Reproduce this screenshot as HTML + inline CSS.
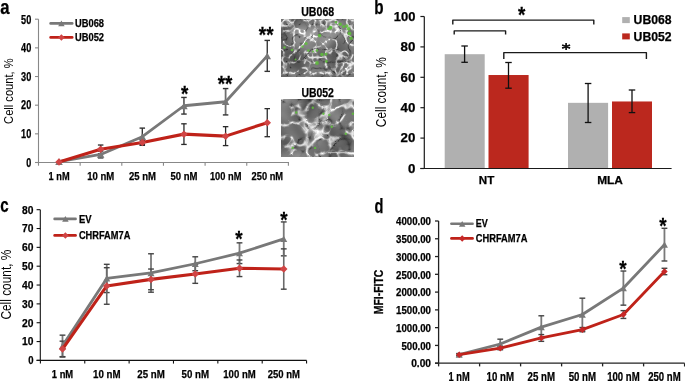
<!DOCTYPE html>
<html><head><meta charset="utf-8"><style>
html,body{margin:0;padding:0;background:#fff;}
text[font-weight="bold"]{stroke:#000;stroke-width:0.25px;}
svg{display:block;will-change:transform;font-family:"Liberation Sans",sans-serif;}
</style></head><body>
<svg width="685" height="381" viewBox="0 0 685 381">
<defs>
<filter id="tex1" x="0" y="0" width="100%" height="100%" filterUnits="objectBoundingBox" color-interpolation-filters="sRGB">
<feTurbulence type="turbulence" baseFrequency="0.095" numOctaves="2" seed="4" result="n1"/>
<feColorMatrix in="n1" type="matrix" values="1 0 0 0 0  1 0 0 0 0  1 0 0 0 0  0 0 0 0 1" result="g1"/>
<feComponentTransfer in="g1" result="A"><feFuncR type="table" tableValues="0.5 0.42 0.28 0.12 0.03 0 0 0 0 0 0 0 0 0 0 0 0 0 0 0"/><feFuncG type="table" tableValues="0.5 0.42 0.28 0.12 0.03 0 0 0 0 0 0 0 0 0 0 0 0 0 0 0"/><feFuncB type="table" tableValues="0.5 0.42 0.28 0.12 0.03 0 0 0 0 0 0 0 0 0 0 0 0 0 0 0"/></feComponentTransfer>
<feTurbulence type="turbulence" baseFrequency="0.08" numOctaves="2" seed="8" result="n2"/>
<feColorMatrix in="n2" type="matrix" values="1 0 0 0 0  1 0 0 0 0  1 0 0 0 0  0 0 0 0 1" result="g2"/>
<feComponentTransfer in="g2" result="D"><feFuncR type="table" tableValues="0.55 0.72 0.9 0.98 1 1 1 1 1 1 1 1 1 1 1 1 1 1 1 1"/><feFuncG type="table" tableValues="0.55 0.72 0.9 0.98 1 1 1 1 1 1 1 1 1 1 1 1 1 1 1 1"/><feFuncB type="table" tableValues="0.55 0.72 0.9 0.98 1 1 1 1 1 1 1 1 1 1 1 1 1 1 1 1"/></feComponentTransfer>
<feTurbulence type="fractalNoise" baseFrequency="0.04" numOctaves="2" seed="2" result="m"/>
<feColorMatrix in="m" type="matrix" values="1 0 0 0 0  1 0 0 0 0  1 0 0 0 0  0 0 0 0 1" result="B"/>
<feComposite in="A" in2="B" operator="arithmetic" k1="0" k2="1" k3="0.5" k4="0.205" result="AB"/>
<feComposite in="AB" in2="D" operator="arithmetic" k1="1" k2="0" k3="0" k4="0"/>
</filter>
<filter id="tex2" x="0" y="0" width="100%" height="100%" filterUnits="objectBoundingBox" color-interpolation-filters="sRGB">
<feTurbulence type="turbulence" baseFrequency="0.065" numOctaves="2" seed="11" result="n1"/>
<feColorMatrix in="n1" type="matrix" values="1 0 0 0 0  1 0 0 0 0  1 0 0 0 0  0 0 0 0 1" result="g1"/>
<feComponentTransfer in="g1" result="A"><feFuncR type="table" tableValues="0.5 0.42 0.28 0.12 0.03 0 0 0 0 0 0 0 0 0 0 0 0 0 0 0"/><feFuncG type="table" tableValues="0.5 0.42 0.28 0.12 0.03 0 0 0 0 0 0 0 0 0 0 0 0 0 0 0"/><feFuncB type="table" tableValues="0.5 0.42 0.28 0.12 0.03 0 0 0 0 0 0 0 0 0 0 0 0 0 0 0"/></feComponentTransfer>
<feTurbulence type="turbulence" baseFrequency="0.05" numOctaves="2" seed="13" result="n2"/>
<feColorMatrix in="n2" type="matrix" values="1 0 0 0 0  1 0 0 0 0  1 0 0 0 0  0 0 0 0 1" result="g2"/>
<feComponentTransfer in="g2" result="D"><feFuncR type="table" tableValues="0.55 0.72 0.9 0.98 1 1 1 1 1 1 1 1 1 1 1 1 1 1 1 1"/><feFuncG type="table" tableValues="0.55 0.72 0.9 0.98 1 1 1 1 1 1 1 1 1 1 1 1 1 1 1 1"/><feFuncB type="table" tableValues="0.55 0.72 0.9 0.98 1 1 1 1 1 1 1 1 1 1 1 1 1 1 1 1"/></feComponentTransfer>
<feTurbulence type="fractalNoise" baseFrequency="0.04" numOctaves="2" seed="5" result="m"/>
<feColorMatrix in="m" type="matrix" values="1 0 0 0 0  1 0 0 0 0  1 0 0 0 0  0 0 0 0 1" result="B"/>
<feComposite in="A" in2="B" operator="arithmetic" k1="0" k2="1" k3="0.5" k4="0.190" result="AB"/>
<feComposite in="AB" in2="D" operator="arithmetic" k1="1" k2="0" k3="0" k4="0"/>
</filter>
<filter id="gb" x="-1" y="-1" width="3" height="3"><feGaussianBlur stdDeviation="0.7"/></filter>
<clipPath id="phclip"><rect x="281" y="19" width="73" height="58"/><rect x="281" y="99" width="73" height="57.3"/></clipPath>
<filter id="gb3" x="-1" y="-1" width="3" height="3"><feGaussianBlur stdDeviation="3"/></filter>
</defs>
<rect width="685" height="381" fill="#fff"/>
<text x="0.30" y="13.70" font-size="20" font-weight="bold" text-anchor="start" fill="#000" textLength="9.3" lengthAdjust="spacingAndGlyphs" >a</text>
<line x1="38.50" y1="19.20" x2="38.50" y2="162.50" stroke="#888" stroke-width="1.1" />
<line x1="35.00" y1="162.50" x2="38.50" y2="162.50" stroke="#888" stroke-width="1.1" />
<text x="31.30" y="166.80" font-size="12" font-weight="bold" text-anchor="end" fill="#000" textLength="5.0" lengthAdjust="spacingAndGlyphs" >0</text>
<line x1="35.00" y1="133.84" x2="38.50" y2="133.84" stroke="#888" stroke-width="1.1" />
<text x="31.30" y="138.14" font-size="12" font-weight="bold" text-anchor="end" fill="#000" textLength="10.2" lengthAdjust="spacingAndGlyphs" >10</text>
<line x1="35.00" y1="105.18" x2="38.50" y2="105.18" stroke="#888" stroke-width="1.1" />
<text x="31.30" y="109.48" font-size="12" font-weight="bold" text-anchor="end" fill="#000" textLength="10.2" lengthAdjust="spacingAndGlyphs" >20</text>
<line x1="35.00" y1="76.52" x2="38.50" y2="76.52" stroke="#888" stroke-width="1.1" />
<text x="31.30" y="80.82" font-size="12" font-weight="bold" text-anchor="end" fill="#000" textLength="10.2" lengthAdjust="spacingAndGlyphs" >30</text>
<line x1="35.00" y1="47.86" x2="38.50" y2="47.86" stroke="#888" stroke-width="1.1" />
<text x="31.30" y="52.16" font-size="12" font-weight="bold" text-anchor="end" fill="#000" textLength="10.2" lengthAdjust="spacingAndGlyphs" >40</text>
<line x1="35.00" y1="19.20" x2="38.50" y2="19.20" stroke="#888" stroke-width="1.1" />
<text x="31.30" y="23.50" font-size="12" font-weight="bold" text-anchor="end" fill="#000" textLength="10.2" lengthAdjust="spacingAndGlyphs" >50</text>
<line x1="35.00" y1="162.50" x2="289.00" y2="162.50" stroke="#888" stroke-width="1.1" />
<line x1="38.50" y1="162.50" x2="38.50" y2="165.70" stroke="#888" stroke-width="1.1" />
<line x1="80.15" y1="162.50" x2="80.15" y2="165.70" stroke="#888" stroke-width="1.1" />
<line x1="121.80" y1="162.50" x2="121.80" y2="165.70" stroke="#888" stroke-width="1.1" />
<line x1="163.45" y1="162.50" x2="163.45" y2="165.70" stroke="#888" stroke-width="1.1" />
<line x1="205.10" y1="162.50" x2="205.10" y2="165.70" stroke="#888" stroke-width="1.1" />
<line x1="246.75" y1="162.50" x2="246.75" y2="165.70" stroke="#888" stroke-width="1.1" />
<line x1="288.40" y1="162.50" x2="288.40" y2="165.70" stroke="#888" stroke-width="1.1" />
<text x="59.10" y="180.40" font-size="11.2" font-weight="bold" text-anchor="middle" fill="#000" textLength="21" lengthAdjust="spacingAndGlyphs" >1 nM</text>
<text x="100.75" y="180.40" font-size="11.2" font-weight="bold" text-anchor="middle" fill="#000" textLength="27" lengthAdjust="spacingAndGlyphs" >10 nM</text>
<text x="142.40" y="180.40" font-size="11.2" font-weight="bold" text-anchor="middle" fill="#000" textLength="27" lengthAdjust="spacingAndGlyphs" >25 nM</text>
<text x="184.05" y="180.40" font-size="11.2" font-weight="bold" text-anchor="middle" fill="#000" textLength="27" lengthAdjust="spacingAndGlyphs" >50 nM</text>
<text x="225.70" y="180.40" font-size="11.2" font-weight="bold" text-anchor="middle" fill="#000" textLength="31.5" lengthAdjust="spacingAndGlyphs" >100 nM</text>
<text x="267.35" y="180.40" font-size="11.2" font-weight="bold" text-anchor="middle" fill="#000" textLength="31.5" lengthAdjust="spacingAndGlyphs" >250 nM</text>
<text transform="translate(12.6,123.9) rotate(-90)" font-size="13.6" textLength="65.5" lengthAdjust="spacingAndGlyphs" fill="#000">Cell count, %</text>
<line x1="100.65" y1="151.04" x2="100.65" y2="157.91" stroke="#2a2a2a" stroke-width="1.3" />
<line x1="97.90" y1="151.04" x2="103.40" y2="151.04" stroke="#333" stroke-width="1.4" />
<line x1="97.90" y1="157.91" x2="103.40" y2="157.91" stroke="#333" stroke-width="1.4" />
<line x1="100.65" y1="145.02" x2="100.65" y2="153.62" stroke="#2a2a2a" stroke-width="1.3" />
<line x1="97.90" y1="145.02" x2="103.40" y2="145.02" stroke="#2a2a2a" stroke-width="1.3" />
<line x1="97.90" y1="153.62" x2="103.40" y2="153.62" stroke="#2a2a2a" stroke-width="1.3" />
<line x1="142.30" y1="128.11" x2="142.30" y2="145.30" stroke="#2a2a2a" stroke-width="1.3" />
<line x1="139.55" y1="128.11" x2="145.05" y2="128.11" stroke="#333" stroke-width="1.4" />
<line x1="139.55" y1="145.30" x2="145.05" y2="145.30" stroke="#333" stroke-width="1.4" />
<line x1="142.30" y1="140.15" x2="142.30" y2="144.73" stroke="#2a2a2a" stroke-width="1.3" />
<line x1="139.55" y1="140.15" x2="145.05" y2="140.15" stroke="#2a2a2a" stroke-width="1.3" />
<line x1="139.55" y1="144.73" x2="145.05" y2="144.73" stroke="#2a2a2a" stroke-width="1.3" />
<line x1="183.95" y1="97.44" x2="183.95" y2="114.06" stroke="#2a2a2a" stroke-width="1.3" />
<line x1="181.20" y1="97.44" x2="186.70" y2="97.44" stroke="#333" stroke-width="1.4" />
<line x1="181.20" y1="114.06" x2="186.70" y2="114.06" stroke="#333" stroke-width="1.4" />
<line x1="183.95" y1="123.81" x2="183.95" y2="144.44" stroke="#2a2a2a" stroke-width="1.3" />
<line x1="181.20" y1="123.81" x2="186.70" y2="123.81" stroke="#2a2a2a" stroke-width="1.3" />
<line x1="181.20" y1="144.44" x2="186.70" y2="144.44" stroke="#2a2a2a" stroke-width="1.3" />
<line x1="225.60" y1="88.56" x2="225.60" y2="114.92" stroke="#6e6e6e" stroke-width="1.8" />
<line x1="222.85" y1="88.56" x2="228.35" y2="88.56" stroke="#333" stroke-width="1.4" />
<line x1="222.85" y1="114.92" x2="228.35" y2="114.92" stroke="#333" stroke-width="1.4" />
<line x1="225.60" y1="126.67" x2="225.60" y2="145.59" stroke="#2a2a2a" stroke-width="1.3" />
<line x1="222.85" y1="126.67" x2="228.35" y2="126.67" stroke="#2a2a2a" stroke-width="1.3" />
<line x1="222.85" y1="145.59" x2="228.35" y2="145.59" stroke="#2a2a2a" stroke-width="1.3" />
<line x1="267.25" y1="40.41" x2="267.25" y2="71.36" stroke="#2a2a2a" stroke-width="1.3" />
<line x1="264.50" y1="40.41" x2="270.00" y2="40.41" stroke="#333" stroke-width="1.4" />
<line x1="264.50" y1="71.36" x2="270.00" y2="71.36" stroke="#333" stroke-width="1.4" />
<line x1="267.25" y1="108.62" x2="267.25" y2="136.71" stroke="#2a2a2a" stroke-width="1.3" />
<line x1="264.50" y1="108.62" x2="270.00" y2="108.62" stroke="#2a2a2a" stroke-width="1.3" />
<line x1="264.50" y1="136.71" x2="270.00" y2="136.71" stroke="#2a2a2a" stroke-width="1.3" />
<polyline fill="none" stroke="#787878" stroke-width="2.8" stroke-linejoin="round" points="59.00,161.64 100.65,154.48 142.30,136.71 183.95,105.75 225.60,101.74 267.25,55.88"/>
<path d="M55.25,165.02 L59.00,158.27 L62.75,165.02Z" fill="#787878"/>
<path d="M96.90,157.85 L100.65,151.10 L104.40,157.85Z" fill="#787878"/>
<path d="M138.55,140.08 L142.30,133.33 L146.05,140.08Z" fill="#787878"/>
<path d="M180.20,109.13 L183.95,102.38 L187.70,109.13Z" fill="#787878"/>
<path d="M221.85,105.12 L225.60,98.37 L229.35,105.12Z" fill="#787878"/>
<path d="M263.50,59.26 L267.25,52.51 L271.00,59.26Z" fill="#787878"/>
<polyline fill="none" stroke="#bf2219" stroke-width="3.1" stroke-linejoin="round" points="59.00,161.93 100.65,149.32 142.30,142.44 183.95,134.13 225.60,136.13 267.25,122.66"/>
<path d="M55.25,161.93 L59.00,158.18 L62.75,161.93 L59.00,165.68Z" fill="#d04545"/>
<path d="M96.90,149.32 L100.65,145.57 L104.40,149.32 L100.65,153.07Z" fill="#d04545"/>
<path d="M138.55,142.44 L142.30,138.69 L146.05,142.44 L142.30,146.19Z" fill="#d04545"/>
<path d="M180.20,134.13 L183.95,130.38 L187.70,134.13 L183.95,137.88Z" fill="#d04545"/>
<path d="M221.85,136.13 L225.60,132.38 L229.35,136.13 L225.60,139.88Z" fill="#d04545"/>
<path d="M263.50,122.66 L267.25,118.91 L271.00,122.66 L267.25,126.41Z" fill="#d04545"/>
<text transform="translate(184.70,100.64) scale(0.86,1)" font-size="22" font-weight="bold" text-anchor="middle">*</text>
<text transform="translate(225.00,91.44) scale(0.86,1)" font-size="22" font-weight="bold" text-anchor="middle">**</text>
<text transform="translate(266.20,42.44) scale(0.86,1)" font-size="22" font-weight="bold" text-anchor="middle">**</text>
<line x1="50.60" y1="23.40" x2="72.20" y2="23.40" stroke="#787878" stroke-width="2.6" stroke-linecap="round"/>
<path d="M58.15,26.32 L61.40,20.47 L64.65,26.32Z" fill="#787878"/>
<line x1="50.60" y1="37.40" x2="72.20" y2="37.40" stroke="#bf2219" stroke-width="2.6" stroke-linecap="round"/>
<path d="M58.15,37.40 L61.40,34.15 L64.65,37.40 L61.40,40.65Z" fill="#d04545"/>
<text x="75.00" y="26.90" font-size="11" font-weight="bold" text-anchor="start" fill="#000" textLength="29" lengthAdjust="spacingAndGlyphs" >UB068</text>
<text x="75.00" y="41.00" font-size="11" font-weight="bold" text-anchor="start" fill="#000" textLength="29" lengthAdjust="spacingAndGlyphs" >UB052</text>
<text x="317.70" y="16.10" font-size="12.5" font-weight="bold" text-anchor="middle" fill="#000" textLength="33" lengthAdjust="spacingAndGlyphs" >UB068</text>
<text x="317.70" y="96.70" font-size="12.5" font-weight="bold" text-anchor="middle" fill="#000" textLength="32.5" lengthAdjust="spacingAndGlyphs" >UB052</text>
<rect x="281" y="19" width="73" height="58" filter="url(#tex1)"/>
<rect x="281" y="99" width="73" height="57.3" filter="url(#tex2)"/>
<g fill="#5ec03a" filter="url(#gb)" opacity="0.85">
<circle cx="340.2" cy="24.3" r="1.8"/>
<circle cx="330.5" cy="27.7" r="1.9"/>
<circle cx="346.9" cy="26.0" r="1.7"/>
<circle cx="348.6" cy="28.9" r="1.8"/>
<circle cx="349.5" cy="33.5" r="1.9"/>
<circle cx="351.1" cy="38.2" r="1.7"/>
<circle cx="319.6" cy="35.6" r="1.8"/>
<circle cx="328.4" cy="28.9" r="1.2"/>
<circle cx="343.6" cy="26.4" r="1.5"/>
<circle cx="336.0" cy="22.2" r="1.3"/>
<circle cx="306.0" cy="43.5" r="1.6"/>
<circle cx="302.5" cy="46.5" r="1.2"/>
<circle cx="308.4" cy="50.5" r="1.2"/>
<circle cx="317.0" cy="50.5" r="1.3"/>
<circle cx="322.0" cy="54.5" r="1.8"/>
<circle cx="326.0" cy="54.0" r="1.5"/>
<circle cx="317.0" cy="63.0" r="1.9"/>
<circle cx="326.4" cy="61.5" r="1.4"/>
<circle cx="284.5" cy="47.5" r="1.2"/>
<circle cx="292.0" cy="50.0" r="1.3"/>
<circle cx="295.5" cy="59.5" r="1.0"/>
<circle cx="313.0" cy="51.5" r="1.0"/>
<circle cx="312.8" cy="107.8" r="1.2"/>
<circle cx="323.4" cy="113.7" r="1.2"/>
<circle cx="329.3" cy="114.9" r="1.2"/>
<circle cx="296.3" cy="112.5" r="1.2"/>
<circle cx="345.8" cy="133.8" r="1.2"/>
<circle cx="352.9" cy="113.7" r="1.2"/>
<circle cx="292.7" cy="147.9" r="1.2"/>
<circle cx="315.1" cy="147.9" r="1.2"/>
<circle cx="331.7" cy="126.7" r="1.2"/>
</g>
<line x1="328" y1="152.6" x2="353" y2="152.6" stroke="#ddd" stroke-width="0.8" opacity="0.8"/>
<g clip-path="url(#phclip)"><g filter="url(#gb3)">
</g></g>
<text x="374.20" y="13.80" font-size="20" font-weight="bold" text-anchor="start" fill="#000" textLength="9.3" lengthAdjust="spacingAndGlyphs" >b</text>
<rect x="444.7" y="54.20" width="40" height="114.30" fill="#b0b0b0"/>
<rect x="488.5" y="75.02" width="40.1" height="93.48" fill="#bb281e"/>
<rect x="568" y="102.84" width="40.1" height="65.66" fill="#b0b0b0"/>
<rect x="612" y="101.47" width="40" height="67.03" fill="#bb281e"/>
<line x1="464.60" y1="46.00" x2="464.60" y2="62.30" stroke="#111" stroke-width="1.3" />
<line x1="461.35" y1="46.00" x2="467.85" y2="46.00" stroke="#111" stroke-width="1.3" />
<line x1="461.35" y1="62.30" x2="467.85" y2="62.30" stroke="#111" stroke-width="1.3" />
<line x1="508.50" y1="62.50" x2="508.50" y2="88.20" stroke="#111" stroke-width="1.3" />
<line x1="505.25" y1="62.50" x2="511.75" y2="62.50" stroke="#111" stroke-width="1.3" />
<line x1="505.25" y1="88.20" x2="511.75" y2="88.20" stroke="#111" stroke-width="1.3" />
<line x1="588.10" y1="83.50" x2="588.10" y2="122.50" stroke="#111" stroke-width="1.3" />
<line x1="584.85" y1="83.50" x2="591.35" y2="83.50" stroke="#111" stroke-width="1.3" />
<line x1="584.85" y1="122.50" x2="591.35" y2="122.50" stroke="#111" stroke-width="1.3" />
<line x1="632.00" y1="90.00" x2="632.00" y2="112.60" stroke="#111" stroke-width="1.3" />
<line x1="628.75" y1="90.00" x2="635.25" y2="90.00" stroke="#111" stroke-width="1.3" />
<line x1="628.75" y1="112.60" x2="635.25" y2="112.60" stroke="#111" stroke-width="1.3" />
<line x1="424.30" y1="16.50" x2="424.30" y2="168.50" stroke="#1a1a1a" stroke-width="1.2" />
<line x1="420.40" y1="168.50" x2="424.30" y2="168.50" stroke="#1a1a1a" stroke-width="1.2" />
<text x="415.40" y="172.80" font-size="12" font-weight="bold" text-anchor="end" fill="#000" textLength="7.4" lengthAdjust="spacingAndGlyphs" >0</text>
<line x1="420.40" y1="138.10" x2="424.30" y2="138.10" stroke="#1a1a1a" stroke-width="1.2" />
<text x="415.40" y="142.40" font-size="12" font-weight="bold" text-anchor="end" fill="#000" textLength="14.8" lengthAdjust="spacingAndGlyphs" >20</text>
<line x1="420.40" y1="107.70" x2="424.30" y2="107.70" stroke="#1a1a1a" stroke-width="1.2" />
<text x="415.40" y="112.00" font-size="12" font-weight="bold" text-anchor="end" fill="#000" textLength="14.8" lengthAdjust="spacingAndGlyphs" >40</text>
<line x1="420.40" y1="77.30" x2="424.30" y2="77.30" stroke="#1a1a1a" stroke-width="1.2" />
<text x="415.40" y="81.60" font-size="12" font-weight="bold" text-anchor="end" fill="#000" textLength="14.8" lengthAdjust="spacingAndGlyphs" >60</text>
<line x1="420.40" y1="46.90" x2="424.30" y2="46.90" stroke="#1a1a1a" stroke-width="1.2" />
<text x="415.40" y="51.20" font-size="12" font-weight="bold" text-anchor="end" fill="#000" textLength="14.8" lengthAdjust="spacingAndGlyphs" >80</text>
<line x1="420.40" y1="16.50" x2="424.30" y2="16.50" stroke="#1a1a1a" stroke-width="1.2" />
<text x="415.40" y="20.80" font-size="12" font-weight="bold" text-anchor="end" fill="#000" textLength="21.6" lengthAdjust="spacingAndGlyphs" >100</text>
<line x1="420.40" y1="168.50" x2="671.60" y2="168.50" stroke="#1a1a1a" stroke-width="1.2" />
<text x="486.50" y="184.00" font-size="11.3" font-weight="bold" text-anchor="middle" fill="#000" textLength="15.5" lengthAdjust="spacingAndGlyphs" >NT</text>
<text x="610.10" y="184.30" font-size="11.3" font-weight="bold" text-anchor="middle" fill="#000" textLength="25.8" lengthAdjust="spacingAndGlyphs" >MLA</text>
<text transform="translate(386.0,127.2) rotate(-90)" font-size="14" textLength="70" lengthAdjust="spacingAndGlyphs" fill="#000">Cell count, %</text>
<path d="M452.8,24.6 V20.1 H593.8 V24.6" fill="none" stroke="#1a1a1a" stroke-width="1.4" stroke-linejoin="round"/>
<path d="M454.2,34.6 V30.9 H505.6 V34.6" fill="none" stroke="#1a1a1a" stroke-width="1.4" stroke-linejoin="round"/>
<path d="M503.8,59.1 V52.6 H646.4 V59.1" fill="none" stroke="#1a1a1a" stroke-width="1.4" stroke-linejoin="round"/>
<text transform="translate(521.60,21.54) scale(0.86,1)" font-size="22" font-weight="bold" text-anchor="middle">*</text>
<path d="M566.1,43.0 V50.0 M562.1,45.0 L570.1,48.1 M562.1,48.1 L570.1,45.0" stroke="#111" stroke-width="1.7" fill="none"/>
<rect x="622.2" y="17.1" width="7.6" height="6" fill="#b0b0b0"/>
<rect x="622.2" y="33.4" width="7.6" height="6" fill="#bb281e"/>
<text x="633.60" y="24.40" font-size="12.1" font-weight="bold" text-anchor="start" fill="#000" textLength="38" lengthAdjust="spacingAndGlyphs" >UB068</text>
<text x="633.60" y="40.70" font-size="12.1" font-weight="bold" text-anchor="start" fill="#000" textLength="38" lengthAdjust="spacingAndGlyphs" >UB052</text>
<text x="0.30" y="212.20" font-size="20" font-weight="bold" text-anchor="start" fill="#000" textLength="8.4" lengthAdjust="spacingAndGlyphs" >c</text>
<line x1="40.30" y1="209.70" x2="40.30" y2="360.40" stroke="#111" stroke-width="1.1" />
<line x1="36.60" y1="360.40" x2="40.30" y2="360.40" stroke="#111" stroke-width="1.1" />
<text x="33.50" y="364.30" font-size="10.8" font-weight="bold" text-anchor="end" fill="#000" textLength="5.3" lengthAdjust="spacingAndGlyphs" >0</text>
<line x1="36.60" y1="341.56" x2="40.30" y2="341.56" stroke="#111" stroke-width="1.1" />
<text x="33.50" y="345.46" font-size="10.8" font-weight="bold" text-anchor="end" fill="#000" textLength="11.4" lengthAdjust="spacingAndGlyphs" >10</text>
<line x1="36.60" y1="322.72" x2="40.30" y2="322.72" stroke="#111" stroke-width="1.1" />
<text x="33.50" y="326.62" font-size="10.8" font-weight="bold" text-anchor="end" fill="#000" textLength="11.4" lengthAdjust="spacingAndGlyphs" >20</text>
<line x1="36.60" y1="303.88" x2="40.30" y2="303.88" stroke="#111" stroke-width="1.1" />
<text x="33.50" y="307.78" font-size="10.8" font-weight="bold" text-anchor="end" fill="#000" textLength="11.4" lengthAdjust="spacingAndGlyphs" >30</text>
<line x1="36.60" y1="285.04" x2="40.30" y2="285.04" stroke="#111" stroke-width="1.1" />
<text x="33.50" y="288.94" font-size="10.8" font-weight="bold" text-anchor="end" fill="#000" textLength="11.4" lengthAdjust="spacingAndGlyphs" >40</text>
<line x1="36.60" y1="266.20" x2="40.30" y2="266.20" stroke="#111" stroke-width="1.1" />
<text x="33.50" y="270.10" font-size="10.8" font-weight="bold" text-anchor="end" fill="#000" textLength="11.4" lengthAdjust="spacingAndGlyphs" >50</text>
<line x1="36.60" y1="247.36" x2="40.30" y2="247.36" stroke="#111" stroke-width="1.1" />
<text x="33.50" y="251.26" font-size="10.8" font-weight="bold" text-anchor="end" fill="#000" textLength="11.4" lengthAdjust="spacingAndGlyphs" >60</text>
<line x1="36.60" y1="228.52" x2="40.30" y2="228.52" stroke="#111" stroke-width="1.1" />
<text x="33.50" y="232.42" font-size="10.8" font-weight="bold" text-anchor="end" fill="#000" textLength="11.4" lengthAdjust="spacingAndGlyphs" >70</text>
<line x1="36.60" y1="209.68" x2="40.30" y2="209.68" stroke="#111" stroke-width="1.1" />
<text x="33.50" y="213.58" font-size="10.8" font-weight="bold" text-anchor="end" fill="#000" textLength="11.4" lengthAdjust="spacingAndGlyphs" >80</text>
<line x1="36.60" y1="360.40" x2="306.60" y2="360.40" stroke="#111" stroke-width="1.1" />
<line x1="40.40" y1="360.40" x2="40.40" y2="363.60" stroke="#111" stroke-width="1.1" />
<line x1="84.76" y1="360.40" x2="84.76" y2="363.60" stroke="#111" stroke-width="1.1" />
<line x1="129.12" y1="360.40" x2="129.12" y2="363.60" stroke="#111" stroke-width="1.1" />
<line x1="173.48" y1="360.40" x2="173.48" y2="363.60" stroke="#111" stroke-width="1.1" />
<line x1="217.84" y1="360.40" x2="217.84" y2="363.60" stroke="#111" stroke-width="1.1" />
<line x1="262.20" y1="360.40" x2="262.20" y2="363.60" stroke="#111" stroke-width="1.1" />
<line x1="306.56" y1="360.40" x2="306.56" y2="363.60" stroke="#111" stroke-width="1.1" />
<text x="62.50" y="377.60" font-size="11" font-weight="bold" text-anchor="middle" fill="#000" textLength="21.4" lengthAdjust="spacingAndGlyphs" >1 nM</text>
<text x="106.75" y="377.60" font-size="11" font-weight="bold" text-anchor="middle" fill="#000" textLength="27.5" lengthAdjust="spacingAndGlyphs" >10 nM</text>
<text x="151.00" y="377.60" font-size="11" font-weight="bold" text-anchor="middle" fill="#000" textLength="27.5" lengthAdjust="spacingAndGlyphs" >25 nM</text>
<text x="195.25" y="377.60" font-size="11" font-weight="bold" text-anchor="middle" fill="#000" textLength="27.5" lengthAdjust="spacingAndGlyphs" >50 nM</text>
<text x="239.50" y="377.60" font-size="11" font-weight="bold" text-anchor="middle" fill="#000" textLength="32.4" lengthAdjust="spacingAndGlyphs" >100 nM</text>
<text x="283.75" y="377.60" font-size="11" font-weight="bold" text-anchor="middle" fill="#000" textLength="32.2" lengthAdjust="spacingAndGlyphs" >250 nM</text>
<text transform="translate(11.3,319.6) rotate(-90)" font-size="14" textLength="70" lengthAdjust="spacingAndGlyphs" fill="#000">Cell count, %</text>
<line x1="62.50" y1="335.15" x2="62.50" y2="356.63" stroke="#7a7a7a" stroke-width="1.8" />
<line x1="59.60" y1="335.15" x2="65.40" y2="335.15" stroke="#444" stroke-width="1.4" />
<line x1="59.60" y1="356.63" x2="65.40" y2="356.63" stroke="#444" stroke-width="1.4" />
<line x1="62.50" y1="341.18" x2="62.50" y2="357.01" stroke="#6a6a6a" stroke-width="1.6" />
<line x1="59.60" y1="341.18" x2="65.40" y2="341.18" stroke="#444" stroke-width="1.4" />
<line x1="59.60" y1="357.01" x2="65.40" y2="357.01" stroke="#444" stroke-width="1.4" />
<line x1="106.75" y1="264.32" x2="106.75" y2="292.58" stroke="#7a7a7a" stroke-width="1.8" />
<line x1="103.85" y1="264.32" x2="109.65" y2="264.32" stroke="#444" stroke-width="1.4" />
<line x1="103.85" y1="292.58" x2="109.65" y2="292.58" stroke="#444" stroke-width="1.4" />
<line x1="106.75" y1="267.71" x2="106.75" y2="304.26" stroke="#6a6a6a" stroke-width="1.6" />
<line x1="103.85" y1="267.71" x2="109.65" y2="267.71" stroke="#444" stroke-width="1.4" />
<line x1="103.85" y1="304.26" x2="109.65" y2="304.26" stroke="#444" stroke-width="1.4" />
<line x1="151.00" y1="253.77" x2="151.00" y2="292.20" stroke="#7a7a7a" stroke-width="1.8" />
<line x1="148.10" y1="253.77" x2="153.90" y2="253.77" stroke="#444" stroke-width="1.4" />
<line x1="148.10" y1="292.20" x2="153.90" y2="292.20" stroke="#444" stroke-width="1.4" />
<line x1="151.00" y1="269.03" x2="151.00" y2="289.75" stroke="#6a6a6a" stroke-width="1.6" />
<line x1="148.10" y1="269.03" x2="153.90" y2="269.03" stroke="#444" stroke-width="1.4" />
<line x1="148.10" y1="289.75" x2="153.90" y2="289.75" stroke="#444" stroke-width="1.4" />
<line x1="195.25" y1="256.78" x2="195.25" y2="270.72" stroke="#7a7a7a" stroke-width="1.8" />
<line x1="192.35" y1="256.78" x2="198.15" y2="256.78" stroke="#444" stroke-width="1.4" />
<line x1="192.35" y1="270.72" x2="198.15" y2="270.72" stroke="#444" stroke-width="1.4" />
<line x1="195.25" y1="264.50" x2="195.25" y2="283.34" stroke="#6a6a6a" stroke-width="1.6" />
<line x1="192.35" y1="264.50" x2="198.15" y2="264.50" stroke="#444" stroke-width="1.4" />
<line x1="192.35" y1="283.34" x2="198.15" y2="283.34" stroke="#444" stroke-width="1.4" />
<line x1="239.50" y1="242.84" x2="239.50" y2="263.56" stroke="#7a7a7a" stroke-width="1.8" />
<line x1="236.60" y1="242.84" x2="242.40" y2="242.84" stroke="#444" stroke-width="1.4" />
<line x1="236.60" y1="263.56" x2="242.40" y2="263.56" stroke="#444" stroke-width="1.4" />
<line x1="239.50" y1="259.98" x2="239.50" y2="276.56" stroke="#6a6a6a" stroke-width="1.6" />
<line x1="236.60" y1="259.98" x2="242.40" y2="259.98" stroke="#444" stroke-width="1.4" />
<line x1="236.60" y1="276.56" x2="242.40" y2="276.56" stroke="#444" stroke-width="1.4" />
<line x1="283.75" y1="221.93" x2="283.75" y2="255.84" stroke="#7a7a7a" stroke-width="1.8" />
<line x1="280.85" y1="221.93" x2="286.65" y2="221.93" stroke="#444" stroke-width="1.4" />
<line x1="280.85" y1="255.84" x2="286.65" y2="255.84" stroke="#444" stroke-width="1.4" />
<line x1="283.75" y1="248.87" x2="283.75" y2="289.18" stroke="#6a6a6a" stroke-width="1.6" />
<line x1="280.85" y1="248.87" x2="286.65" y2="248.87" stroke="#444" stroke-width="1.4" />
<line x1="280.85" y1="289.18" x2="286.65" y2="289.18" stroke="#444" stroke-width="1.4" />
<polyline fill="none" stroke="#787878" stroke-width="2.8" stroke-linejoin="round" points="62.50,345.89 106.75,278.45 151.00,272.98 195.25,263.75 239.50,253.20 283.75,238.88"/>
<path d="M59.00,349.04 L62.50,342.74 L66.00,349.04Z" fill="#787878"/>
<path d="M103.25,281.60 L106.75,275.30 L110.25,281.60Z" fill="#787878"/>
<path d="M147.50,276.13 L151.00,269.83 L154.50,276.13Z" fill="#787878"/>
<path d="M191.75,266.90 L195.25,260.60 L198.75,266.90Z" fill="#787878"/>
<path d="M236.00,256.35 L239.50,250.05 L243.00,256.35Z" fill="#787878"/>
<path d="M280.25,242.03 L283.75,235.73 L287.25,242.03Z" fill="#787878"/>
<polyline fill="none" stroke="#bf2219" stroke-width="3.1" stroke-linejoin="round" points="62.50,349.10 106.75,285.98 151.00,279.39 195.25,273.92 239.50,268.27 283.75,269.03"/>
<path d="M58.75,349.10 L62.50,345.35 L66.25,349.10 L62.50,352.85Z" fill="#d04545"/>
<path d="M103.00,285.98 L106.75,282.23 L110.50,285.98 L106.75,289.73Z" fill="#d04545"/>
<path d="M147.25,279.39 L151.00,275.64 L154.75,279.39 L151.00,283.14Z" fill="#d04545"/>
<path d="M191.50,273.92 L195.25,270.17 L199.00,273.92 L195.25,277.67Z" fill="#d04545"/>
<path d="M235.75,268.27 L239.50,264.52 L243.25,268.27 L239.50,272.02Z" fill="#d04545"/>
<path d="M280.00,269.03 L283.75,265.28 L287.50,269.03 L283.75,272.78Z" fill="#d04545"/>
<text transform="translate(239.00,246.44) scale(0.86,1)" font-size="22" font-weight="bold" text-anchor="middle">*</text>
<text transform="translate(283.90,227.24) scale(0.86,1)" font-size="22" font-weight="bold" text-anchor="middle">*</text>
<line x1="54.60" y1="218.90" x2="75.60" y2="218.90" stroke="#787878" stroke-width="2.6" stroke-linecap="round"/>
<path d="M62.15,221.83 L65.40,215.97 L68.65,221.83Z" fill="#787878"/>
<line x1="54.60" y1="235.40" x2="75.60" y2="235.40" stroke="#bf2219" stroke-width="2.6" stroke-linecap="round"/>
<path d="M62.15,235.40 L65.40,232.15 L68.65,235.40 L65.40,238.65Z" fill="#d04545"/>
<text x="78.90" y="222.80" font-size="11.3" font-weight="bold" text-anchor="start" fill="#000" textLength="12.6" lengthAdjust="spacingAndGlyphs" >EV</text>
<text x="78.90" y="239.30" font-size="11.3" font-weight="bold" text-anchor="start" fill="#000" textLength="51.5" lengthAdjust="spacingAndGlyphs" >CHRFAM7A</text>
<text x="374.60" y="212.90" font-size="20" font-weight="bold" text-anchor="start" fill="#000" textLength="8.9" lengthAdjust="spacingAndGlyphs" >d</text>
<line x1="438.60" y1="221.00" x2="438.60" y2="363.20" stroke="#222" stroke-width="1.3" />
<line x1="435.00" y1="363.20" x2="438.60" y2="363.20" stroke="#222" stroke-width="1.3" />
<text x="431.00" y="367.40" font-size="10.5" font-weight="bold" text-anchor="end" fill="#000" textLength="19.8" lengthAdjust="spacingAndGlyphs" >0.00</text>
<line x1="435.00" y1="345.43" x2="438.60" y2="345.43" stroke="#222" stroke-width="1.3" />
<text x="431.00" y="349.62" font-size="10.5" font-weight="bold" text-anchor="end" fill="#000" textLength="29.6" lengthAdjust="spacingAndGlyphs" >500.00</text>
<line x1="435.00" y1="327.65" x2="438.60" y2="327.65" stroke="#222" stroke-width="1.3" />
<text x="431.00" y="331.85" font-size="10.5" font-weight="bold" text-anchor="end" fill="#000" textLength="35.0" lengthAdjust="spacingAndGlyphs" >1000.00</text>
<line x1="435.00" y1="309.88" x2="438.60" y2="309.88" stroke="#222" stroke-width="1.3" />
<text x="431.00" y="314.07" font-size="10.5" font-weight="bold" text-anchor="end" fill="#000" textLength="35.0" lengthAdjust="spacingAndGlyphs" >1500.00</text>
<line x1="435.00" y1="292.10" x2="438.60" y2="292.10" stroke="#222" stroke-width="1.3" />
<text x="431.00" y="296.30" font-size="10.5" font-weight="bold" text-anchor="end" fill="#000" textLength="35.0" lengthAdjust="spacingAndGlyphs" >2000.00</text>
<line x1="435.00" y1="274.32" x2="438.60" y2="274.32" stroke="#222" stroke-width="1.3" />
<text x="431.00" y="278.52" font-size="10.5" font-weight="bold" text-anchor="end" fill="#000" textLength="35.0" lengthAdjust="spacingAndGlyphs" >2500.00</text>
<line x1="435.00" y1="256.55" x2="438.60" y2="256.55" stroke="#222" stroke-width="1.3" />
<text x="431.00" y="260.75" font-size="10.5" font-weight="bold" text-anchor="end" fill="#000" textLength="35.0" lengthAdjust="spacingAndGlyphs" >3000.00</text>
<line x1="435.00" y1="238.77" x2="438.60" y2="238.77" stroke="#222" stroke-width="1.3" />
<text x="431.00" y="242.97" font-size="10.5" font-weight="bold" text-anchor="end" fill="#000" textLength="35.0" lengthAdjust="spacingAndGlyphs" >3500.00</text>
<line x1="435.00" y1="221.00" x2="438.60" y2="221.00" stroke="#222" stroke-width="1.3" />
<text x="431.00" y="225.20" font-size="10.5" font-weight="bold" text-anchor="end" fill="#000" textLength="35.0" lengthAdjust="spacingAndGlyphs" >4000.00</text>
<line x1="435.00" y1="363.20" x2="684.60" y2="363.20" stroke="#222" stroke-width="1.3" />
<line x1="438.60" y1="363.20" x2="438.60" y2="366.40" stroke="#222" stroke-width="1.3" />
<line x1="479.60" y1="363.20" x2="479.60" y2="366.40" stroke="#222" stroke-width="1.3" />
<line x1="520.60" y1="363.20" x2="520.60" y2="366.40" stroke="#222" stroke-width="1.3" />
<line x1="561.60" y1="363.20" x2="561.60" y2="366.40" stroke="#222" stroke-width="1.3" />
<line x1="602.60" y1="363.20" x2="602.60" y2="366.40" stroke="#222" stroke-width="1.3" />
<line x1="643.60" y1="363.20" x2="643.60" y2="366.40" stroke="#222" stroke-width="1.3" />
<line x1="684.60" y1="363.20" x2="684.60" y2="366.40" stroke="#222" stroke-width="1.3" />
<text x="459.20" y="380.80" font-size="12.3" font-weight="bold" text-anchor="middle" fill="#000" textLength="21.2" lengthAdjust="spacingAndGlyphs" >1 nM</text>
<text x="500.25" y="380.80" font-size="12.3" font-weight="bold" text-anchor="middle" fill="#000" textLength="27.4" lengthAdjust="spacingAndGlyphs" >10 nM</text>
<text x="541.30" y="380.80" font-size="12.3" font-weight="bold" text-anchor="middle" fill="#000" textLength="27.4" lengthAdjust="spacingAndGlyphs" >25 nM</text>
<text x="582.35" y="380.80" font-size="12.3" font-weight="bold" text-anchor="middle" fill="#000" textLength="27.4" lengthAdjust="spacingAndGlyphs" >50 nM</text>
<text x="623.40" y="380.80" font-size="12.3" font-weight="bold" text-anchor="middle" fill="#000" textLength="32.5" lengthAdjust="spacingAndGlyphs" >100 nM</text>
<text x="664.45" y="380.80" font-size="12.3" font-weight="bold" text-anchor="middle" fill="#000" textLength="32.5" lengthAdjust="spacingAndGlyphs" >250 nM</text>
<text transform="translate(383.1,314.2) rotate(-90)" font-size="12.2" font-weight="bold" textLength="44.5" lengthAdjust="spacingAndGlyphs" fill="#000">MFI-FITC</text>
<line x1="459.20" y1="353.60" x2="459.20" y2="355.73" stroke="#7a7a7a" stroke-width="1.8" />
<line x1="456.30" y1="353.60" x2="462.10" y2="353.60" stroke="#444" stroke-width="1.4" />
<line x1="456.30" y1="355.73" x2="462.10" y2="355.73" stroke="#444" stroke-width="1.4" />
<line x1="459.20" y1="353.60" x2="459.20" y2="355.73" stroke="#6a6a6a" stroke-width="1.6" />
<line x1="456.30" y1="353.60" x2="462.10" y2="353.60" stroke="#444" stroke-width="1.4" />
<line x1="456.30" y1="355.73" x2="462.10" y2="355.73" stroke="#444" stroke-width="1.4" />
<line x1="500.25" y1="339.17" x2="500.25" y2="348.84" stroke="#7a7a7a" stroke-width="1.8" />
<line x1="497.35" y1="339.17" x2="503.15" y2="339.17" stroke="#444" stroke-width="1.4" />
<line x1="497.35" y1="348.84" x2="503.15" y2="348.84" stroke="#444" stroke-width="1.4" />
<line x1="500.25" y1="346.56" x2="500.25" y2="349.76" stroke="#6a6a6a" stroke-width="1.6" />
<line x1="497.35" y1="346.56" x2="503.15" y2="346.56" stroke="#444" stroke-width="1.4" />
<line x1="497.35" y1="349.76" x2="503.15" y2="349.76" stroke="#444" stroke-width="1.4" />
<line x1="541.30" y1="315.78" x2="541.30" y2="338.53" stroke="#7a7a7a" stroke-width="1.8" />
<line x1="538.40" y1="315.78" x2="544.20" y2="315.78" stroke="#444" stroke-width="1.4" />
<line x1="538.40" y1="338.53" x2="544.20" y2="338.53" stroke="#444" stroke-width="1.4" />
<line x1="541.30" y1="334.58" x2="541.30" y2="341.34" stroke="#6a6a6a" stroke-width="1.6" />
<line x1="538.40" y1="334.58" x2="544.20" y2="334.58" stroke="#444" stroke-width="1.4" />
<line x1="538.40" y1="341.34" x2="544.20" y2="341.34" stroke="#444" stroke-width="1.4" />
<line x1="582.35" y1="298.18" x2="582.35" y2="330.89" stroke="#7a7a7a" stroke-width="1.8" />
<line x1="579.45" y1="298.18" x2="585.25" y2="298.18" stroke="#444" stroke-width="1.4" />
<line x1="579.45" y1="330.89" x2="585.25" y2="330.89" stroke="#444" stroke-width="1.4" />
<line x1="582.35" y1="327.51" x2="582.35" y2="331.77" stroke="#6a6a6a" stroke-width="1.6" />
<line x1="579.45" y1="327.51" x2="585.25" y2="327.51" stroke="#444" stroke-width="1.4" />
<line x1="579.45" y1="331.77" x2="585.25" y2="331.77" stroke="#444" stroke-width="1.4" />
<line x1="623.40" y1="271.02" x2="623.40" y2="305.15" stroke="#7a7a7a" stroke-width="1.8" />
<line x1="620.50" y1="271.02" x2="626.30" y2="271.02" stroke="#444" stroke-width="1.4" />
<line x1="620.50" y1="305.15" x2="626.30" y2="305.15" stroke="#444" stroke-width="1.4" />
<line x1="623.40" y1="310.62" x2="623.40" y2="318.44" stroke="#6a6a6a" stroke-width="1.6" />
<line x1="620.50" y1="310.62" x2="626.30" y2="310.62" stroke="#444" stroke-width="1.4" />
<line x1="620.50" y1="318.44" x2="626.30" y2="318.44" stroke="#444" stroke-width="1.4" />
<line x1="664.45" y1="228.29" x2="664.45" y2="260.99" stroke="#7a7a7a" stroke-width="1.8" />
<line x1="661.55" y1="228.29" x2="667.35" y2="228.29" stroke="#444" stroke-width="1.4" />
<line x1="661.55" y1="260.99" x2="667.35" y2="260.99" stroke="#444" stroke-width="1.4" />
<line x1="664.45" y1="268.28" x2="664.45" y2="274.68" stroke="#6a6a6a" stroke-width="1.6" />
<line x1="661.55" y1="268.28" x2="667.35" y2="268.28" stroke="#444" stroke-width="1.4" />
<line x1="661.55" y1="274.68" x2="667.35" y2="274.68" stroke="#444" stroke-width="1.4" />
<polyline fill="none" stroke="#787878" stroke-width="2.8" stroke-linejoin="round" points="459.20,354.67 500.25,344.00 541.30,327.15 582.35,314.53 623.40,288.08 664.45,244.64"/>
<path d="M455.70,357.82 L459.20,351.52 L462.70,357.82Z" fill="#787878"/>
<path d="M496.75,347.15 L500.25,340.85 L503.75,347.15Z" fill="#787878"/>
<path d="M537.80,330.30 L541.30,324.00 L544.80,330.30Z" fill="#787878"/>
<path d="M578.85,317.68 L582.35,311.38 L585.85,317.68Z" fill="#787878"/>
<path d="M619.90,291.23 L623.40,284.93 L626.90,291.23Z" fill="#787878"/>
<path d="M660.95,247.79 L664.45,241.49 L667.95,247.79Z" fill="#787878"/>
<polyline fill="none" stroke="#bf2219" stroke-width="2.8" stroke-linejoin="round" points="459.20,354.67 500.25,348.16 541.30,337.96 582.35,329.64 623.40,314.53 664.45,271.48"/>
<path d="M455.95,354.67 L459.20,351.42 L462.45,354.67 L459.20,357.92Z" fill="#c62828"/>
<path d="M497.00,348.16 L500.25,344.91 L503.50,348.16 L500.25,351.41Z" fill="#c62828"/>
<path d="M538.05,337.96 L541.30,334.71 L544.55,337.96 L541.30,341.21Z" fill="#c62828"/>
<path d="M579.10,329.64 L582.35,326.39 L585.60,329.64 L582.35,332.89Z" fill="#c62828"/>
<path d="M620.15,314.53 L623.40,311.28 L626.65,314.53 L623.40,317.78Z" fill="#c62828"/>
<path d="M661.20,271.48 L664.45,268.23 L667.70,271.48 L664.45,274.73Z" fill="#c62828"/>
<text transform="translate(623.00,275.94) scale(0.86,1)" font-size="22" font-weight="bold" text-anchor="middle">*</text>
<text transform="translate(662.90,232.94) scale(0.86,1)" font-size="22" font-weight="bold" text-anchor="middle">*</text>
<line x1="451.40" y1="223.80" x2="472.60" y2="223.80" stroke="#787878" stroke-width="2.6" stroke-linecap="round"/>
<path d="M458.95,226.73 L462.20,220.88 L465.45,226.73Z" fill="#787878"/>
<line x1="451.40" y1="238.40" x2="472.60" y2="238.40" stroke="#bf2219" stroke-width="2.6" stroke-linecap="round"/>
<path d="M458.95,238.40 L462.20,235.15 L465.45,238.40 L462.20,241.65Z" fill="#c62828"/>
<text x="475.70" y="227.40" font-size="10.5" font-weight="bold" text-anchor="start" fill="#000" textLength="12.0" lengthAdjust="spacingAndGlyphs" >EV</text>
<text x="475.70" y="242.40" font-size="10.5" font-weight="bold" text-anchor="start" fill="#000" textLength="51.8" lengthAdjust="spacingAndGlyphs" >CHRFAM7A</text>
</svg>
</body></html>
